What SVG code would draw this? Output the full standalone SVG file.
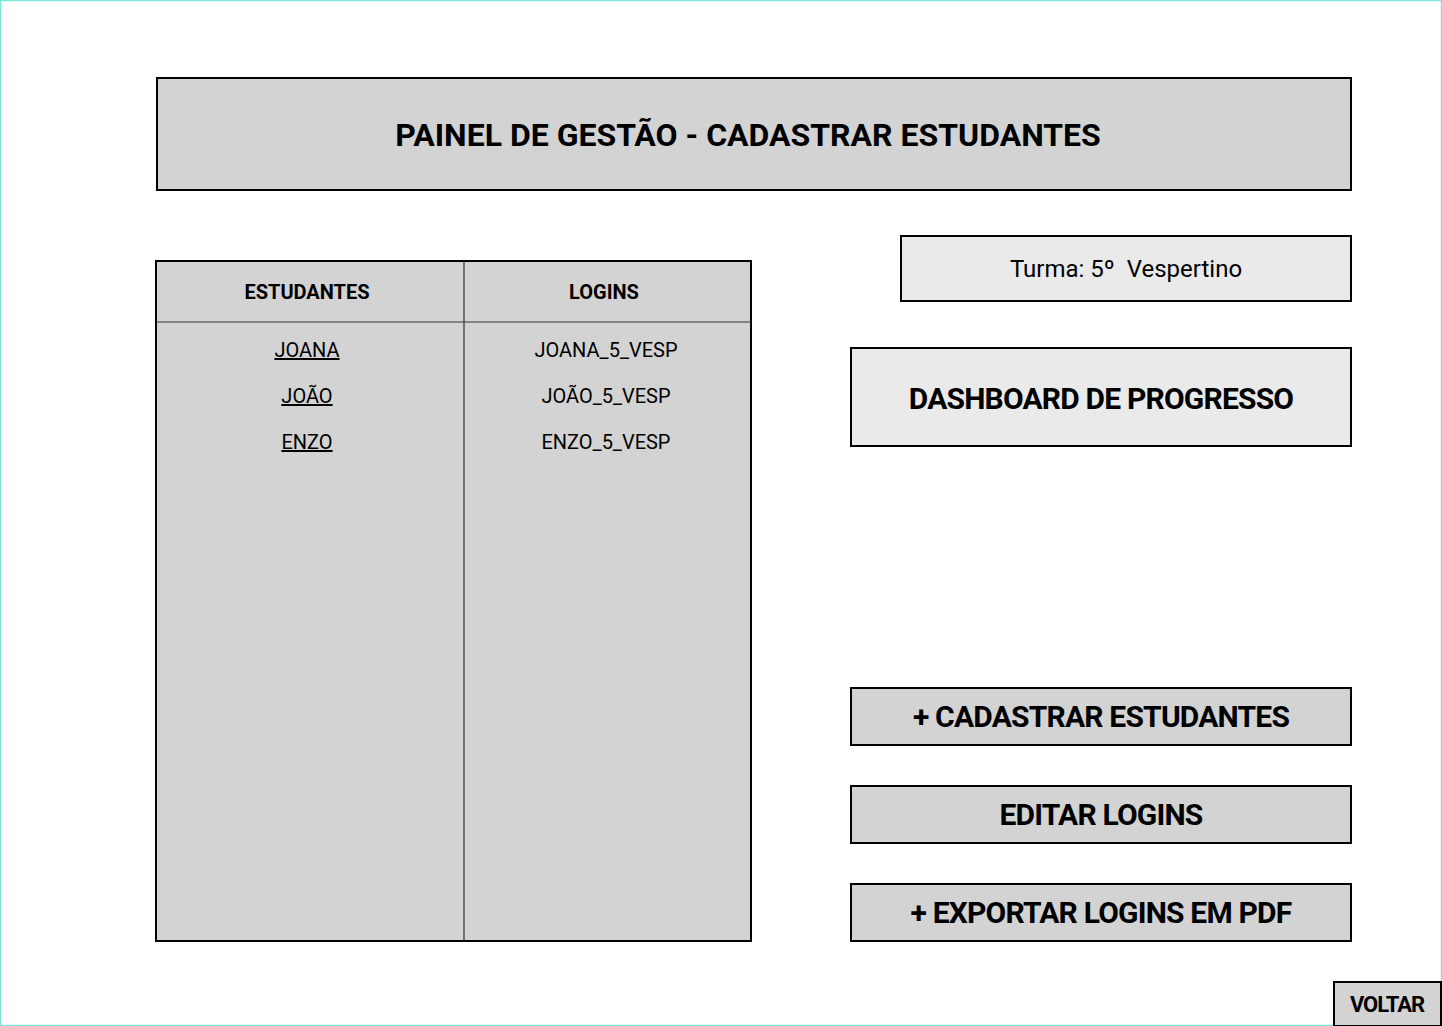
<svg xmlns="http://www.w3.org/2000/svg" width="1442" height="1026" viewBox="0 0 1442 1026">
<style>
.box{stroke:#000;stroke-width:2}
.g{fill:#d3d3d3}
.lg{fill:#eaeaea}
text{font-family:Roboto,"Liberation Sans",sans-serif;fill:#000;text-anchor:middle}
.btn{font-size:30px;font-weight:700;letter-spacing:-0.8px}
.cell{font-size:20px}
.th{font-size:20px;font-weight:700}
</style>
<rect x="0.5" y="0.5" width="1441" height="1025" fill="#fff" stroke="#7de6d6" stroke-width="1.5"/>
<g id="header">
<rect class="box g" x="157" y="78" width="1194" height="112"/>
<text x="748" y="146" font-size="32" font-weight="700">PAINEL DE GESTÃO - CADASTRAR ESTUDANTES</text>
</g>
<g id="table">
<rect class="box g" x="156" y="261" width="595" height="680"/>
<line x1="464" y1="261" x2="464" y2="941" stroke="#333" stroke-width="1.2"/>
<line x1="156" y1="322" x2="751" y2="322" stroke="#333" stroke-width="1.2"/>
<text class="th" x="307" y="299">ESTUDANTES</text>
<text class="th" x="604" y="299">LOGINS</text>
<text class="cell" x="307" y="357" text-decoration="underline">JOANA</text>
<text class="cell" x="307" y="403" text-decoration="underline">JOÃO</text>
<text class="cell" x="307" y="449" text-decoration="underline">ENZO</text>
<text class="cell" x="606" y="357">JOANA_5_VESP</text>
<text class="cell" x="606" y="403">JOÃO_5_VESP</text>
<text class="cell" x="606" y="449">ENZO_5_VESP</text>
</g>
<g id="turma">
<rect class="box lg" x="901" y="236" width="450" height="65"/>
<text x="1126" y="277" font-size="24" xml:space="preserve" style="white-space:pre">Turma: 5º  Vespertino</text>
</g>
<g id="dashboard">
<rect class="box lg" x="851" y="348" width="500" height="98"/>
<text class="btn" x="1101" y="409">DASHBOARD DE PROGRESSO</text>
</g>
<g id="cadastrar">
<rect class="box g" x="851" y="688" width="500" height="57"/>
<text class="btn" x="1101" y="727">+ CADASTRAR ESTUDANTES</text>
</g>
<g id="editar">
<rect class="box g" x="851" y="786" width="500" height="57"/>
<text class="btn" x="1101" y="825">EDITAR LOGINS</text>
</g>
<g id="exportar">
<rect class="box g" x="851" y="884" width="500" height="57"/>
<text class="btn" x="1101" y="923">+ EXPORTAR LOGINS EM PDF</text>
</g>
<g id="voltar">
<rect class="box g" x="1334" y="982" width="107" height="44"/>
<text x="1387" y="1012" font-size="22" font-weight="700" letter-spacing="-1">VOLTAR</text>
</g>
<g id="connectors"/>
</svg>
